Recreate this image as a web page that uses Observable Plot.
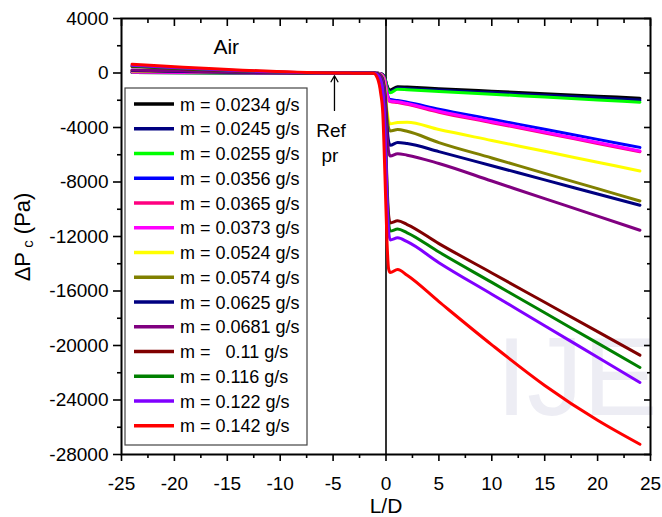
<!DOCTYPE html>
<html><head><meta charset="utf-8">
<script src="https://cdn.jsdelivr.net/npm/d3@7"></script>
<script src="https://cdn.jsdelivr.net/npm/@observablehq/plot@0.6"></script>
<style>body{margin:0;background:#fff}</style>
</head><body><div id="chart"></div>
<script>
// L/D positions at which each curve is read
const ld = [-24, -5, -1.2, -0.8, -0.5, -0.3, -0.1, 0.1, 0.25, 0.4, 1.1, 2, 5, 10, 15, 20, 24];

// ΔPc (Pa) per mass flow rate
const dp0234 = [30, 0, 0, -12, -50, -125, -375, -940, -1190, -1250, -1000, -1030, -1150, -1335, -1520, -1700, -1845];
const dp0245 = [35, 0, 0, -14, -54, -135, -405, -1010, -1280, -1350, -1100, -1130, -1255, -1440, -1625, -1810, -1990];
const dp0255 = [40, 0, 0, -15, -58, -145, -435, -1090, -1380, -1450, -1200, -1230, -1350, -1560, -1765, -1975, -2140];
const dp0356 = [70, 0, 0, -20, -80, -195, -585, -1460, -1850, -1950, -2020, -2150, -2650, -3390, -4130, -4870, -5460];
const dp0365 = [75, 0, 0, -21, -84, -210, -630, -1575, -1995, -2100, -2170, -2300, -2880, -3645, -4405, -5170, -5780];
const dp0373 = [80, 0, 0, -20, -82, -205, -615, -1540, -1950, -2050, -2110, -2240, -2810, -3575, -4340, -5105, -5720];
const dp0524 = [140, 0, 0, -37, -150, -370, -1115, -2790, -3530, -3720, -3640, -3620, -4150, -4950, -5750, -6550, -7190];
const dp0574 = [160, 0, 0, -42, -170, -425, -1275, -3190, -4040, -4250, -4150, -4280, -5110, -6235, -7365, -8490, -9390];
const dp0625 = [190, 0, 0, -53, -210, -530, -1590, -3975, -5035, -5300, -5100, -5180, -5770, -6805, -7845, -8880, -9710];
const dp0681 = [220, 0, 0, -61, -245, -610, -1830, -4575, -5795, -6100, -5920, -6030, -6640, -7930, -9220, -10510, -11540];
const dp110 = [470, 0, 0, -110, -440, -1100, -3300, -8250, -10450, -11000, -10850, -11120, -12520, -14675, -16830, -18985, -20710];
const dp116 = [510, 0, 0, -116, -464, -1160, -3480, -8700, -11020, -11600, -11450, -11730, -13140, -15370, -17600, -19825, -21610];
const dp122 = [560, 0, 0, -123, -490, -1225, -3675, -9190, -11640, -12250, -12100, -12380, -13920, -16235, -18545, -20860, -22710];
const dp142 = [650, 0, -20, -400, -1500, -3000, -7500, -12500, -14400, -14650, -14420, -14850, -16780, -19950, -22930, -25490, -27250];

const seriesValues = [dp0234, dp0245, dp0255, dp0356, dp0365, dp0373, dp0524, dp0574, dp0625, dp0681, dp110, dp116, dp122, dp142];
const seriesLabels = ["m = 0.0234 g/s", "m = 0.0245 g/s", "m = 0.0255 g/s", "m = 0.0356 g/s", "m = 0.0365 g/s",
  "m = 0.0373 g/s", "m = 0.0524 g/s", "m = 0.0574 g/s", "m = 0.0625 g/s", "m = 0.0681 g/s",
  "m =   0.11 g/s", "m = 0.116 g/s", "m = 0.122 g/s", "m = 0.142 g/s"];
const seriesColors = ["#000000", "#000080", "#00ff00", "#0000ff", "#ff0080", "#ff00ff", "#ffff00",
  "#808000", "#000080", "#800080", "#800000", "#008000", "#8000ff", "#ff0000"];

const xTicks = [-25, -20, -15, -10, -5, 0, 5, 10, 15, 20, 25];
const xMinorTicks = [-22.5, -17.5, -12.5, -7.5, -2.5, 2.5, 7.5, 12.5, 17.5, 22.5];
const yTicks = [4000, 0, -4000, -8000, -12000, -16000, -20000, -24000, -28000];
const yMinorTicks = [2000, -2000, -6000, -10000, -14000, -18000, -22000, -26000];

const rows = seriesValues.flatMap((vals, i) => ld.map((x, j) => ({x, y: vals[j], series: seriesLabels[i]})));

const fmt = d => String(d);
const font = "Arial, 'Liberation Sans', sans-serif";

const chart = Plot.plot({
  width: 662, height: 517,
  marginLeft: 121, marginRight: 12, marginTop: 18, marginBottom: 63,
  x: {domain: [-25, 25], label: null},
  y: {domain: [-28000, 4000], label: null},
  color: {domain: seriesLabels, range: seriesColors},
  style: {fontFamily: font, fontSize: "19px", background: "transparent", color: "black"},
  marks: [
    Plot.ruleX([0], {stroke: "black", strokeWidth: 1.6}),
    Plot.line(rows, {x: "x", y: "y", z: "series", stroke: "series", strokeWidth: 3, curve: "monotone-x"}),
    Plot.text(["Air"], {x: -15.1, y: 1900, fontSize: 21, fill: "black"}),
    Plot.text(["Ref"], {x: -5.2, y: -4260, fontSize: 19, fill: "black"}),
    Plot.text(["pr"], {x: -5.3, y: -6110, fontSize: 19, fill: "black"}),
    Plot.arrow([{x: -4.87, y1: -2750, y2: -200}], {x1: "x", x2: "x", y1: "y1", y2: "y2", stroke: "black", strokeWidth: 1.3, headLength: 8}),
    Plot.axisX(xTicks, {anchor: "bottom", tickSize: 7, tickPadding: 15, tickFormat: fmt, strokeWidth: 1.6, label: null}),
    Plot.axisX(xMinorTicks, {anchor: "bottom", tickSize: 4, text: null, strokeWidth: 1.6, label: null}),
    Plot.axisX(xTicks, {anchor: "top", tickSize: -7, text: null, strokeWidth: 1.6, label: null}),
    Plot.axisX(xMinorTicks, {anchor: "top", tickSize: -4, text: null, strokeWidth: 1.6, label: null}),
    Plot.axisY(yTicks, {anchor: "left", tickSize: 8, tickPadding: 5, tickFormat: fmt, strokeWidth: 1.6, label: null}),
    Plot.axisY(yMinorTicks, {anchor: "left", tickSize: 4, text: null, strokeWidth: 1.6, label: null}),
    Plot.axisY(yTicks, {anchor: "right", tickSize: -7, text: null, strokeWidth: 1.6, label: null}),
    Plot.axisY(yMinorTicks, {anchor: "right", tickSize: -4, text: null, strokeWidth: 1.6, label: null}),
    Plot.frame({stroke: "black", strokeWidth: 2})
  ]
});

const svg = d3.select(chart).style("background", "white");

// faint watermark behind everything
svg.insert("text", ":first-child")
  .attr("x", 496).attr("y", 415).attr("text-anchor", "start")
  .attr("font-family", font).attr("font-size", 112)
  .attr("fill", "#ededf4")
  .text("IJE");

// legend
const lg = svg.append("g").attr("font-family", font).attr("text-anchor", "start");
lg.append("rect").attr("x", 125).attr("y", 88).attr("width", 182).attr("height", 357)
  .attr("fill", "white").attr("stroke", "#444").attr("stroke-width", 1.2);
seriesLabels.forEach((lab, i) => {
  const cy = 104 + i * 24.75;
  lg.append("line").attr("x1", 134).attr("x2", 174).attr("y1", cy).attr("y2", cy)
    .attr("stroke", seriesColors[i]).attr("stroke-width", 3.5);
  lg.append("text").attr("x", 180).attr("y", cy + 6.5).attr("font-size", 18).attr("fill", "black")
    .attr("text-anchor", "start")
    .text(lab.replace(/ /g, "\u00a0"));
});

// axis titles
const yl = svg.append("text").attr("transform", "translate(30,237) rotate(-90)")
  .attr("text-anchor", "middle").attr("font-family", font).attr("font-size", 22).attr("fill", "black");
yl.append("tspan").text("\u0394P");
yl.append("tspan").attr("font-size", 15).attr("dy", 3).text("\u00a0c");
yl.append("tspan").attr("dy", -3).text(" (Pa)");

svg.append("text").attr("x", 386).attr("y", 513).attr("text-anchor", "middle")
  .attr("font-family", font).attr("font-size", 21).attr("fill", "black").text("L/D");

document.getElementById("chart").appendChild(chart);
</script>
</body></html>
